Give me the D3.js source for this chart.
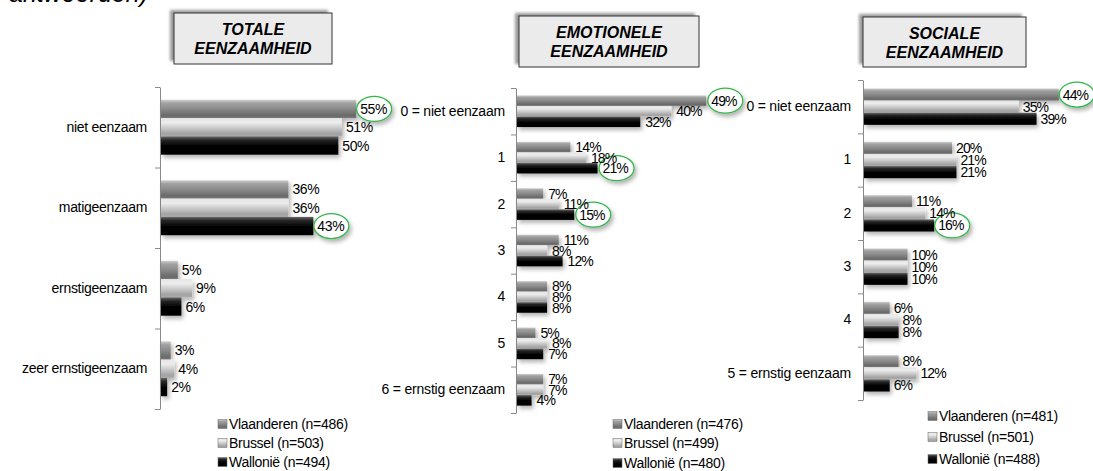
<!DOCTYPE html>
<html>
<head>
<meta charset="utf-8">
<script src="https://cdn.jsdelivr.net/npm/d3@7/dist/d3.min.js"></script>
<style>
  html, body { margin: 0; padding: 0; background: #fff; }
  svg { display: block; font-family: "Liberation Sans", Arial, sans-serif; }
</style>
</head>
<body>
<svg id="chart" width="1093" height="471"></svg>
<script>
// Regions (series) and their sample sizes per panel
const series = ["Vlaanderen", "Brussel", "Wallonië"];

// Panel 1: totale eenzaamheid
const totaalCategories = ["niet eenzaam", "matigeenzaam", "ernstigeenzaam", "zeer ernstigeenzaam"];
const totaalVlaanderen = [55, 36, 5, 3];
const totaalBrussel = [51, 36, 9, 4];
const totaalWallonie = [50, 43, 6, 2];
const totaalN = [486, 503, 494];
const totaalHighlights = [["Vlaanderen", 0], ["Wallonië", 1]];

// Panel 2: emotionele eenzaamheid
const emoCategories = ["0 = niet eenzaam", "1", "2", "3", "4", "5", "6 = ernstig eenzaam"];
const emoVlaanderen = [49, 14, 7, 11, 8, 5, 7];
const emoBrussel = [40, 18, 11, 8, 8, 8, 7];
const emoWallonie = [32, 21, 15, 12, 8, 7, 4];
const emoN = [476, 499, 480];
const emoHighlights = [["Vlaanderen", 0], ["Wallonië", 1], ["Wallonië", 2]];

// Panel 3: sociale eenzaamheid
const socCategories = ["0 = niet eenzaam", "1", "2", "3", "4", "5 = ernstig eenzaam"];
const socVlaanderen = [44, 20, 11, 10, 6, 8];
const socBrussel = [35, 21, 14, 10, 8, 12];
const socWallonie = [39, 21, 16, 10, 8, 6];
const socN = [481, 501, 488];
const socHighlights = [["Vlaanderen", 0], ["Wallonië", 2]];

const svg = d3.select("#chart");
const defs = svg.append("defs");

// Cylinder-like vertical gradients for each region
const gradients = {
  "Vlaanderen": [[0, "#cfcfcf"], [0.18, "#a2a2a2"], [0.5, "#8a8a8a"], [0.85, "#6a6a6a"], [1, "#787878"]],
  "Brussel":    [[0, "#e6e6e6"], [0.25, "#ececec"], [0.55, "#c8c8c8"], [0.85, "#a2a2a2"], [1, "#acacac"]],
  "Wallonië":   [[0, "#6a6a6a"], [0.2, "#262626"], [0.5, "#050505"], [1, "#000000"]]
};
const gradId = { "Vlaanderen": "g-vla", "Brussel": "g-bru", "Wallonië": "g-wal" };
Object.entries(gradients).forEach(([name, stops]) => {
  const g = defs.append("linearGradient").attr("id", gradId[name])
    .attr("x1", 0).attr("y1", 0).attr("x2", 0).attr("y2", 1);
  stops.forEach(([o, c]) => g.append("stop").attr("offset", o).attr("stop-color", c));
});

const shadow = defs.append("filter").attr("id", "shadow")
  .attr("x", "-20%").attr("y", "-30%").attr("width", "150%").attr("height", "180%");
shadow.append("feDropShadow").attr("dx", 2).attr("dy", 3)
  .attr("stdDeviation", 2).attr("flood-color", "#000").attr("flood-opacity", 0.3);

const boxShadow = defs.append("filter").attr("id", "boxshadow")
  .attr("x", "-20%").attr("y", "-30%").attr("width", "140%").attr("height", "160%");
boxShadow.append("feGaussianBlur").attr("stdDeviation", 1.5);

// Partial caption at the top edge
svg.append("text")
  .attr("x", 148).attr("y", 2)
  .attr("text-anchor", "end")
  .attr("font-size", 25).attr("font-style", "italic")
  .text("antwoorden)");

function drawPanel(cfg) {
  const g = svg.append("g");
  const values = { "Vlaanderen": cfg.vla, "Brussel": cfg.bru, "Wallonië": cfg.wal };

  // Title box with a soft shadow to the upper left
  const tb = cfg.title;
  g.append("rect")
    .attr("x", tb.x - 4).attr("y", tb.y - 3).attr("width", tb.w).attr("height", tb.h)
    .attr("fill", "#9a9a9a").attr("filter", "url(#boxshadow)");
  g.append("rect")
    .attr("x", tb.x).attr("y", tb.y).attr("width", tb.w).attr("height", tb.h)
    .attr("fill", "#ebebeb").attr("stroke", "#333").attr("stroke-width", 1);
  tb.lines.forEach((line, i) => {
    g.append("text")
      .attr("x", tb.x + tb.w / 2).attr("y", tb.y + 22 + i * 19)
      .attr("text-anchor", "middle")
      .attr("font-size", 16).attr("font-weight", "bold").attr("font-style", "italic")
      .text(line);
  });

  const x = d3.scaleLinear().domain([0, 60]).range([cfg.axisX, cfg.axisX + cfg.width]);
  const y = d3.scaleBand().domain(cfg.categories).range([cfg.top, cfg.bottom]).padding(0);
  const ys = d3.scaleBand().domain(series).range([0, y.bandwidth()]).paddingInner(0).paddingOuter(0.7);

  // Category axis with ticks at band boundaries
  const axis = d3.axisLeft(y).tickSize(0).tickPadding(cfg.labelPad);
  const ax = g.append("g").attr("transform", `translate(${cfg.axisX},0)`).call(axis);
  ax.select(".domain").attr("stroke", "#8a8a8a");
  ax.selectAll("text").attr("font-size", 14).attr("fill", "#000")
    .attr("font-family", "'Liberation Sans', Arial, sans-serif")
    .attr("letter-spacing", cfg.catSpacing);
  const bounds = cfg.categories.map(c => y(c)).concat([cfg.bottom]);
  g.selectAll(".boundtick").data(bounds).join("line")
    .attr("x1", cfg.axisX - 5).attr("x2", cfg.axisX)
    .attr("y1", d => d + 0.5).attr("y2", d => d + 0.5)
    .attr("stroke", "#8a8a8a");

  // Bars
  const rows = [];
  series.forEach(s => cfg.categories.forEach((c, i) => rows.push({ s, c, i, v: values[s][i] })));
  g.append("g").attr("filter", "url(#shadow)")
    .selectAll("rect").data(rows).join("rect")
    .attr("x", cfg.axisX + 1)
    .attr("y", d => y(d.c) + ys(d.s))
    .attr("width", d => x(d.v) - cfg.axisX - 1)
    .attr("height", ys.bandwidth())
    .attr("fill", d => `url(#${gradId[d.s]})`);

  // Highlight ellipses around selected labels
  const hl = cfg.highlights.map(([s, i]) => rows.find(r => r.s === s && r.i === i));
  const labelX = d => x(d.v) + cfg.labelGap;
  const labelY = d => y(d.c) + ys(d.s) + ys.bandwidth() / 2;
  g.selectAll(".hl").data(hl).join("ellipse")
    .attr("cx", d => labelX(d) + 14)
    .attr("cy", d => labelY(d))
    .attr("rx", 17.5).attr("ry", 12.5)
    .attr("fill", "#fff").attr("stroke", "#33b54a").attr("stroke-width", 1.3)
    .attr("filter", "url(#shadow)");

  // Value labels
  g.selectAll(".val").data(rows).join("text")
    .attr("x", labelX)
    .attr("y", labelY)
    .attr("dy", "0.36em")
    .attr("font-size", cfg.valSize)
    .attr("letter-spacing", cfg.valSpacing)
    .text(d => d.v + "%");

  // Legend
  series.forEach((s, k) => {
    const ly = cfg.legend.y[k];
    g.append("rect")
      .attr("x", cfg.legend.x).attr("y", ly - 4.5)
      .attr("width", 9).attr("height", 9)
      .attr("fill", `url(#${gradId[s]})`).attr("stroke", "#666").attr("stroke-width", 0.5);
    g.append("text")
      .attr("x", cfg.legend.x + 11).attr("y", ly).attr("dy", "0.36em")
      .attr("font-size", 14).attr("letter-spacing", -0.3)
      .text(`${s} (n=${cfg.n[k]})`);
  });
}

drawPanel({
  categories: totaalCategories, vla: totaalVlaanderen, bru: totaalBrussel, wal: totaalWallonie,
  n: totaalN, highlights: totaalHighlights,
  title: { x: 174, y: 13, w: 158, h: 51, lines: ["TOTALE", "EENZAAMHEID"] },
  axisX: 160, width: 214, top: 87, bottom: 409, labelPad: 13, catSpacing: -0.3,
  labelGap: 4, valSize: 14, valSpacing: -0.4,
  legend: { x: 218, y: [424, 443, 462] }
});

drawPanel({
  categories: emoCategories, vla: emoVlaanderen, bru: emoBrussel, wal: emoWallonie,
  n: emoN, highlights: emoHighlights,
  title: { x: 519, y: 16, w: 180, h: 51, lines: ["EMOTIONELE", "EENZAAMHEID"] },
  axisX: 516, width: 233, top: 88, bottom: 413, labelPad: 11, catSpacing: -0.2,
  labelGap: 5, valSize: 14, valSpacing: -0.9,
  legend: { x: 613, y: [424, 443, 463] }
});

drawPanel({
  categories: socCategories, vla: socVlaanderen, bru: socBrussel, wal: socWallonie,
  n: socN, highlights: socHighlights,
  title: { x: 863, y: 17, w: 163, h: 50, lines: ["SOCIALE", "EENZAAMHEID"] },
  axisX: 863, width: 267, top: 80, bottom: 400, labelPad: 12, catSpacing: -0.2,
  labelGap: 4, valSize: 14, valSpacing: -0.9,
  legend: { x: 928, y: [416, 437, 459] }
});
</script>
</body>
</html>
